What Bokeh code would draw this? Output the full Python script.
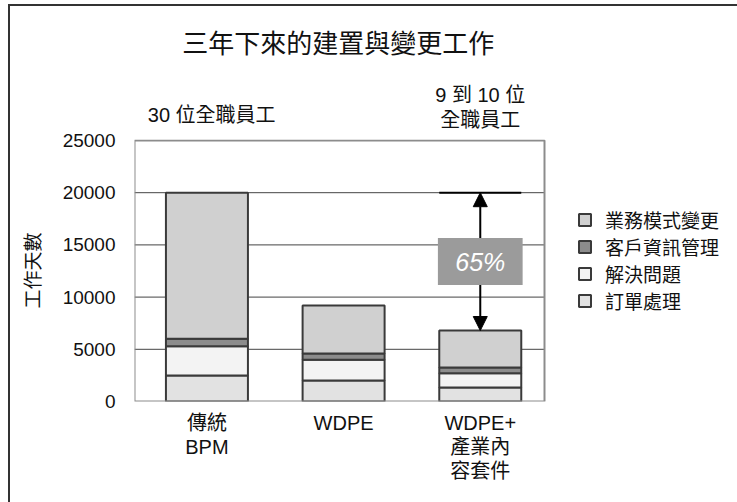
from bokeh.plotting import figure
from bokeh.layouts import column
from bokeh.models import (ColumnDataSource, Range1d, FixedTicker, Label,
                          Arrow, NormalHead, BoxAnnotation, Legend, LegendItem)
from bokeh.embed import file_html
from bokeh.resources import INLINE

# ---- data ----
categories = ["傳統\nBPM", "WDPE", "WDPE+\n產業內\n容套件"]
series_names = ["訂單處理", "解決問題", "客戶資訊管理", "業務模式變更"]
order_processing = [2500, 2000, 1350]
problem_solving = [2800, 2000, 1350]
customer_info = [700, 600, 550]
business_change = [14000, 4600, 3550]
y_ticks = [0, 5000, 10000, 15000, 20000, 25000]

title_text = "三年下來的建置與變更工作"
y_label = "工作天數"
staff_left = "30 位全職員工"
staff_right = ["9 到 10 位", "全職員工"]
reduction_label = "65%"

colors = ["#e2e2e2", "#f3f3f3", "#8c8c8c", "#d0d0d0"]
FONT = "Liberation Sans, Noto Sans CJK TC"

# ---- layout (pixels) ----
W = 727
HEAD_H = 124                          # header strip with title / staff notes
MAIN_TOP = 9                          # room above the plot area in the main chart
FRAME_L, FRAME_B = 124, 101           # plot-area left / bottom border on canvas
PLOT_W, PLOT_H = 410, 261             # visible plot-area size
MAIN_H = MAIN_TOP + PLOT_H + 1 + FRAME_B
n = len(categories)
y_max = y_ticks[-1]
px_per_x = PLOT_W / n
x_end = (W - FRAME_L) / px_per_x
y_end = y_max * (PLOT_H + 1) / PLOT_H

totals = [a + b + c + d for a, b, c, d in zip(order_processing, problem_solving,
                                              customer_info, business_change)]
shift = 0.03
xs = [i + 0.5 + shift for i in range(n)]

source = ColumnDataSource(dict(x=xs,
                               **{series_names[0]: order_processing,
                                  series_names[1]: problem_solving,
                                  series_names[2]: customer_info,
                                  series_names[3]: business_change}))

# ---------------- header figure (frame is aligned with the main plot area) ----------------
head = figure(x_range=Range1d(0, x_end), y_range=Range1d(0, HEAD_H),
              width=W, height=HEAD_H, output_backend="svg", toolbar_location=None,
              x_axis_location=None, y_axis_location=None,
              min_border_left=0, min_border_right=0, min_border_top=0, min_border_bottom=0)
head.outline_line_color = None
head.xgrid.grid_line_color = None
head.ygrid.grid_line_color = None
head.background_fill_color = "white"
head.border_fill_color = "white"

def head_y(dist_from_top):
    # header rows given as distance below the header's top edge
    return HEAD_H - dist_from_top

head.add_layout(Label(x=1.49, y=head_y(37), text=title_text, text_align="center",
                      text_baseline="middle", text_font=FONT, text_font_size="26px",
                      text_color="#111111"))
head.add_layout(Label(x=0.565, y=head_y(108), text=staff_left, text_align="center",
                      text_baseline="middle", text_font=FONT, text_font_size="20px",
                      text_color="#111111", text_line_height=1.0))
head.add_layout(Label(x=xs[2], y=head_y(88), text=staff_right[0], text_align="center",
                      text_baseline="middle", text_font=FONT, text_font_size="20px",
                      text_color="#111111", text_line_height=1.0))
head.add_layout(Label(x=xs[2], y=head_y(113), text=staff_right[1], text_align="center",
                      text_baseline="middle", text_font=FONT, text_font_size="20px",
                      text_color="#111111", text_line_height=1.0))

# ---------------- main chart ----------------
p = figure(x_range=Range1d(0, x_end), y_range=Range1d(0, y_end),
           width=W, height=MAIN_H, output_backend="svg", toolbar_location=None,
           min_border_left=FRAME_L, min_border_right=0, min_border_top=MAIN_TOP,
           min_border_bottom=FRAME_B)
p.background_fill_color = "white"
p.border_fill_color = "white"
p.outline_line_color = None
p.xgrid.grid_line_color = None
p.ygrid.grid_line_color = None

inner = y_ticks[1:-1]
p.segment(x0=[0] * len(inner), x1=[n] * len(inner), y0=inner, y1=inner,
          line_color="#444444", line_width=1)

renderers = p.vbar_stack(series_names, x="x", width=0.6, source=source,
                         fill_color=colors, line_color="#3a3a3a", line_width=2)

p.quad(left=[0], right=[n], bottom=[0], top=[y_max], fill_alpha=0,
       line_color="#8c8c8c", line_width=2)

p.yaxis.ticker = FixedTicker(ticks=y_ticks)
p.yaxis.axis_line_color = None
p.yaxis.major_tick_line_color = None
p.yaxis.minor_tick_line_color = None
p.yaxis.major_tick_in = 0
p.yaxis.major_tick_out = 0
p.yaxis.major_label_standoff = 19
p.yaxis.major_label_text_font = FONT
p.yaxis.major_label_text_font_size = "19px"
p.yaxis.major_label_text_color = "#111111"
p.yaxis.major_label_text_line_height = 1.0
p.yaxis.axis_label = y_label
p.yaxis.axis_label_text_font = FONT
p.yaxis.axis_label_text_font_size = "19px"
p.yaxis.axis_label_text_font_style = "normal"
p.yaxis.axis_label_text_color = "#111111"
p.yaxis.axis_label_standoff = 16

p.xaxis.ticker = FixedTicker(ticks=xs)
p.xaxis.major_label_overrides = {x: c for x, c in zip(xs, categories)}
p.xaxis.axis_line_color = None
p.xaxis.major_tick_line_color = None
p.xaxis.minor_tick_line_color = None
p.xaxis.major_tick_in = 0
p.xaxis.major_tick_out = 0
p.xaxis.major_label_standoff = 10
p.xaxis.major_label_text_font = FONT
p.xaxis.major_label_text_font_size = "20px"
p.xaxis.major_label_text_color = "#111111"
p.xaxis.major_label_text_line_height = 1.1

items = [LegendItem(label=series_names[i], renderers=[renderers[i]]) for i in reversed(range(4))]
legend = Legend(items=items, location=(443, 87), orientation="vertical",
                label_text_font=FONT, label_text_font_size="19px", label_text_color="#111111",
                label_text_line_height=1.0,
                glyph_width=15, glyph_height=15, label_height=19, spacing=0,
                label_standoff=13, padding=0, margin=0,
                border_line_color=None, background_fill_alpha=0)
p.add_layout(legend)

xc = xs[2]
p.segment(x0=[xc - 0.3], x1=[xc + 0.3], y0=[totals[0]], y1=[totals[0]],
          line_color="black", line_width=2)
mid = (totals[0] + totals[2]) / 2
half = 2250
p.add_layout(Arrow(end=NormalHead(size=14, fill_color="black", line_color="black"),
                   x_start=xc, y_start=mid + half, x_end=xc, y_end=totals[0],
                   line_color="black", line_width=2))
p.add_layout(Arrow(end=NormalHead(size=14, fill_color="black", line_color="black"),
                   x_start=xc, y_start=mid - half, x_end=xc, y_end=totals[2],
                   line_color="black", line_width=2))
p.add_layout(BoxAnnotation(left=xc - 0.31, right=xc + 0.31, bottom=mid - half, top=mid + half,
                           fill_color="#9b9b9b", fill_alpha=1, line_color=None))
p.add_layout(Label(x=xc, y=mid, text=reduction_label, text_align="center",
                   text_baseline="middle", text_font=FONT, text_font_size="25px",
                   text_font_style="italic", text_color="white"))

layout = column(head, p, spacing=0)
layout.margin = (4, 0, 0, 8)
layout.styles = {"border-left": "2px solid #333333", "border-top": "2px solid #333333"}

open("out.html", "w").write(file_html(layout, INLINE))
